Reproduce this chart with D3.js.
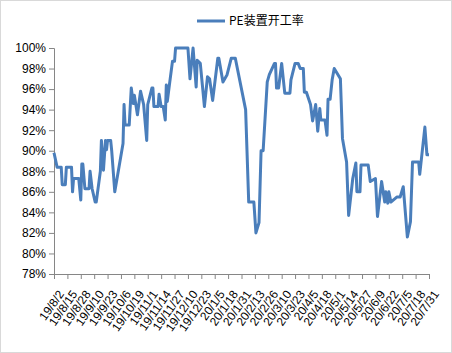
<!DOCTYPE html>
<html>
<head>
<meta charset="utf-8">
<script src="https://cdn.jsdelivr.net/npm/d3@7"></script>
<style>
  body { margin: 0; background: #fff; }
  svg { display: block; font-family: "DejaVu Sans", sans-serif; }
</style>
</head>
<body>
<svg width="452" height="353"></svg>
<script>
// PE装置开工率, daily readings (%)
const seriesName = 'PE装置开工率';

const dates = [
  '2019-08-02', '2019-08-05', '2019-08-09', '2019-08-10', '2019-08-13', '2019-08-14',
  '2019-08-19', '2019-08-20', '2019-08-21', '2019-08-26', '2019-08-28', '2019-08-29',
  '2019-08-30', '2019-09-01', '2019-09-05', '2019-09-06', '2019-09-08', '2019-09-11',
  '2019-09-12', '2019-09-16', '2019-09-17', '2019-09-19', '2019-09-21', '2019-09-22',
  '2019-09-23', '2019-09-26', '2019-09-27', '2019-09-30', '2019-10-08', '2019-10-09',
  '2019-10-10', '2019-10-14', '2019-10-16', '2019-10-18', '2019-10-19', '2019-10-22',
  '2019-10-25', '2019-10-28', '2019-10-31', '2019-11-01', '2019-11-05', '2019-11-06',
  '2019-11-07', '2019-11-11', '2019-11-12', '2019-11-14', '2019-11-16', '2019-11-18',
  '2019-11-19', '2019-11-20', '2019-11-22', '2019-11-25', '2019-11-27', '2019-11-28',
  '2019-12-10', '2019-12-12', '2019-12-15', '2019-12-18', '2019-12-19', '2019-12-22',
  '2019-12-24', '2019-12-26', '2019-12-29', '2019-12-31', '2020-01-03', '2020-01-08',
  '2020-01-09', '2020-01-13', '2020-01-17', '2020-01-21', '2020-01-25', '2020-02-04',
  '2020-02-07', '2020-02-12', '2020-02-14', '2020-02-17', '2020-02-19', '2020-02-21',
  '2020-02-25', '2020-02-27', '2020-03-03', '2020-03-04', '2020-03-05', '2020-03-07',
  '2020-03-10', '2020-03-13', '2020-03-18', '2020-03-19', '2020-03-23', '2020-03-26',
  '2020-03-28', '2020-03-31', '2020-04-01', '2020-04-03', '2020-04-07', '2020-04-09',
  '2020-04-12', '2020-04-14', '2020-04-16', '2020-04-17', '2020-04-21', '2020-04-23',
  '2020-04-24', '2020-04-26', '2020-04-28', '2020-04-30', '2020-05-06', '2020-05-08',
  '2020-05-12', '2020-05-14', '2020-05-18', '2020-05-21', '2020-05-22', '2020-05-25',
  '2020-05-26', '2020-06-02', '2020-06-04', '2020-06-09', '2020-06-11', '2020-06-15',
  '2020-06-18', '2020-06-19', '2020-06-21', '2020-06-22', '2020-06-24', '2020-06-30',
  '2020-07-03', '2020-07-06', '2020-07-10', '2020-07-13', '2020-07-15', '2020-07-21',
  '2020-07-22', '2020-07-27', '2020-07-29', '2020-07-31'
];

const values = [
  89.8, 88.4, 88.4, 86.7, 86.7, 88.4,
  88.4, 86.0, 87.3, 87.3, 85.2, 88.7,
  88.7, 86.3, 86.3, 88.0, 86.3, 85.0,
  85.0, 88.0, 91.0, 88.1, 91.0, 90.1,
  91.0, 91.0, 90.0, 86.0, 90.7, 94.5,
  92.5, 92.5, 96.1, 94.6, 95.4, 93.5,
  95.8, 94.5, 91.0, 94.5, 96.1, 96.1,
  94.3, 94.3, 95.5, 94.3, 94.3, 93.0,
  96.4, 94.8, 96.4, 98.7, 98.7, 100,
  100, 97.0, 100, 96.2, 98.8, 98.5,
  96.4, 94.3, 97.2, 97.0, 94.9, 99.0,
  99.0, 96.7, 97.4, 99.0, 99.0, 94.0,
  85.0, 85.0, 82.0, 83.0, 90.0, 90.0,
  96.7, 97.4, 98.5, 98.5, 96.1, 96.1,
  98.5, 95.6, 95.6, 96.9, 98.5, 98.5,
  98.0, 98.0, 95.7, 95.7, 94.5, 92.9,
  94.5, 91.9, 94.1, 93.0, 93.0, 91.5,
  95.0, 95.0, 96.9, 98.0, 97.0, 91.2,
  88.9, 83.7, 87.3, 88.8, 86.0, 86.0,
  88.6, 88.6, 87.0, 87.3, 83.6, 87.0,
  85.0, 86.0, 84.9, 86.0, 85.0, 85.5,
  85.5, 86.5, 81.6, 83.1, 88.9, 88.9,
  87.7, 92.3, 89.6, 89.6
];

const yTicks = [78, 80, 82, 84, 86, 88, 90, 92, 94, 96, 98, 100];
const xStart = '2019-08-02';
const xEnd = '2020-07-31';
const xTickStepDays = 13;

const parse = d3.timeParse('%Y-%m-%d');
const data = dates.map((d, i) => ({ date: parse(d), value: values[i] }));

const svg = d3.select('svg');
const W = 452, H = 353;
const m = { top: 48, right: 23, bottom: 79, left: 54 };

svg.append('rect')
  .attr('x', 0.5).attr('y', 0.5)
  .attr('width', W - 1).attr('height', H - 1)
  .attr('fill', '#fff')
  .attr('stroke', '#d9d9d9');

const x = d3.scaleTime()
  .domain([parse(xStart), parse(xEnd)])
  .range([m.left, W - m.right]);

const y = d3.scaleLinear()
  .domain([d3.min(yTicks), d3.max(yTicks)])
  .range([H - m.bottom, m.top]);

const xTicks = d3.timeDay.every(1).range(parse(xStart), d3.timeDay.offset(parse(xEnd), 1))
  .filter((d, i) => i % xTickStepDays === 0);

// y axis
const yAxis = svg.append('g')
  .attr('transform', `translate(${m.left},0)`)
  .call(d3.axisLeft(y).tickValues(yTicks).tickSize(5).tickPadding(3).tickFormat(d => d + '%'));
yAxis.select('.domain').attr('stroke', '#868686');
yAxis.selectAll('.tick line').attr('stroke', '#868686');
yAxis.selectAll('text').attr('fill', '#000').style('font-size', '12px');

// x axis
const xAxis = svg.append('g')
  .attr('transform', `translate(0,${H - m.bottom})`)
  .call(d3.axisBottom(x).tickValues(xTicks).tickSize(5).tickSizeOuter(0).tickFormat(d3.timeFormat('%y/%-m/%-d')));
xAxis.select('.domain').attr('stroke', '#868686');
xAxis.selectAll('.tick line').attr('stroke', '#868686');
xAxis.selectAll('text')
  .attr('fill', '#000')
  .style('font-size', '12px')
  .attr('text-anchor', 'end')
  .attr('dy', null)
  .attr('y', 0)
  .attr('transform', 'translate(10,20) rotate(-55)');

// line
const line = d3.line()
  .x(d => x(d.date))
  .y(d => y(d.value));

svg.append('path')
  .datum(data)
  .attr('d', line)
  .attr('fill', 'none')
  .attr('stroke', '#4a7ebb')
  .attr('stroke-width', 3)
  .attr('stroke-linejoin', 'round');

// legend
const legend = svg.append('g').attr('transform', 'translate(197,21)');
legend.append('line')
  .attr('x1', 0).attr('x2', 28)
  .attr('y1', 0).attr('y2', 0)
  .attr('stroke', '#4a7ebb')
  .attr('stroke-width', 3);
legend.append('text')
  .attr('x', 32).attr('y', 0)
  .attr('dy', '0.35em')
  .style('font-size', '12px')
  .style('font-family', '"Noto Sans CJK SC", "DejaVu Sans", sans-serif')
  .text(seriesName);
</script>
</body>
</html>
